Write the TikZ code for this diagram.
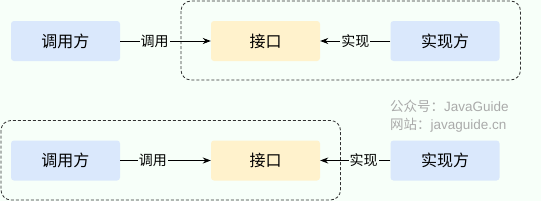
\documentclass[tikz,border=0pt]{standalone}
\usepackage{fontspec}
\setmainfont{Liberation Sans}
\newfontfamily\cjk{Noto Sans CJK SC}
\usetikzlibrary{arrows.meta}
\definecolor{bgc}{HTML}{F7FFF9}
\definecolor{bluebox}{HTML}{DAE8FC}
\definecolor{yellowbox}{HTML}{FFF2CC}
\definecolor{wm}{HTML}{AAAAAA}
\tikzset{
  box/.style={rounded corners=3pt, minimum width=109pt, minimum height=40pt, inner sep=0pt, font=\cjk\fontsize{16}{16}\selectfont, text=black},
  callbox/.style={box, fill=bluebox},
  ifbox/.style={box, fill=yellowbox},
  group/.style={draw=black!80, dash pattern=on 3pt off 2pt, rounded corners=10pt, line width=0.8pt},
  conn/.style={draw=black, line width=0.8pt, -{Stealth[length=8pt,width=6pt]}},
  lbl/.style={fill=bgc, inner sep=1pt, font=\cjk\fontsize{14}{14}\selectfont, text=black},
  wmtext/.style={anchor=west, inner sep=0pt, text=wm, font=\fontsize{13.5}{13.5}\selectfont}
}
\begin{document}
\begin{tikzpicture}[x=1pt,y=-1pt]
\fill[bgc] (0,0) rectangle (541,201);
\useasboundingbox (0,0) rectangle (541,201);
% top group
\draw[group] (181,1) rectangle (520.5,80);
\node[callbox] (c1) at (65.5,41) {调用方};
\node[ifbox] (i1) at (265.5,41) {接口};
\node[callbox] (r1) at (445,41) {实现方};
\draw[conn] (c1) -- node[lbl, pos=0.38] {调用} (i1);
\draw[conn] (r1) -- node[lbl, pos=0.5] {实现} (i1);
% bottom group
\draw[group] (1,120.5) rectangle (340.5,200);
\node[callbox] (c2) at (65.5,160.5) {调用方};
\node[ifbox] (i2) at (265.5,160.5) {接口};
\node[callbox] (r2) at (445,160.5) {实现方};
\draw[conn] (c2) -- node[lbl, pos=0.36] {调用} (i2);
\draw[conn] (r2) -- node[lbl, pos=0.38] {实现} (i2);
% watermark
\node[wmtext] (w1) at (390,106) {{\cjk 公众号：}JavaGuide};
\node[wmtext] (w2) at (390,125) {{\cjk 网站：}javaguide.cn};
\end{tikzpicture}
\end{document}
